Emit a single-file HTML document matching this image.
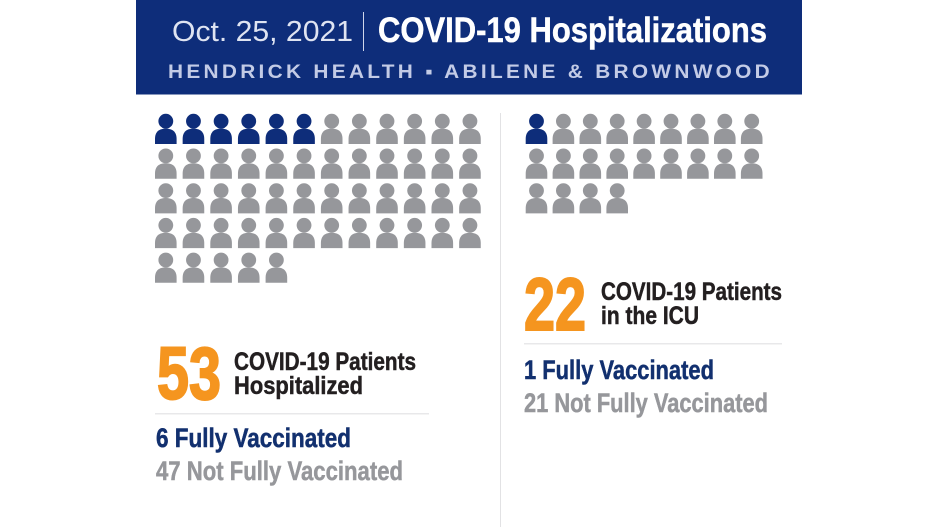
<!DOCTYPE html>
<html lang="en">
<head>
<meta charset="utf-8">
<title>COVID-19 Hospitalizations</title>
<style>
html,body{margin:0;padding:0;background:#fff;width:938px;height:527px;overflow:hidden}
svg{display:block}
text{font-family:"Liberation Sans Narrow","Liberation Sans",sans-serif;font-weight:700}
.wide{font-family:"Liberation Sans",sans-serif}
.heavy{stroke-width:.5px;paint-order:stroke}
.big{stroke-width:2px}
</style>
</head>
<body>
<svg id="chart" width="938" height="527" viewBox="0 0 938 527" xmlns="http://www.w3.org/2000/svg">
  <rect x="136" y="0" width="666" height="94.5" fill="#0e2d7a"/>
  <text class="wide" x="172" y="41" font-size="29" fill="#dfe4f2" style="font-weight:400" textLength="181" lengthAdjust="spacingAndGlyphs">Oct. 25, 2021</text>
  <rect x="363" y="12" width="1" height="39" fill="#cfd6ea"/>
  <text class="heavy" stroke="#fff" x="378" y="42" font-size="35" fill="#fff" textLength="389" lengthAdjust="spacingAndGlyphs">COVID-19 Hospitalizations</text>
  <text class="wide" x="168" y="78" font-size="19" fill="#c3cbe6" textLength="605" lengthAdjust="spacingAndGlyphs" letter-spacing="3">HENDRICK HEALTH ▪ ABILENE &amp; BROWNWOOD</text>

  <rect x="500" y="113" width="1" height="414" fill="#e2e2e4"/>
  <g id="hospital-icons"></g>
  <g id="icu-icons"></g>

  <text class="big" stroke="#f5951f" x="157" y="399" font-size="74" fill="#f5951f" textLength="64" lengthAdjust="spacingAndGlyphs">53</text>
  <text class="heavy" stroke="#231f20" x="234" y="370" font-size="25" fill="#231f20" textLength="182" lengthAdjust="spacingAndGlyphs">COVID-19 Patients</text>
  <text class="heavy" stroke="#231f20" x="234" y="394" font-size="25" fill="#231f20" textLength="129" lengthAdjust="spacingAndGlyphs">Hospitalized</text>
  <rect x="155" y="413" width="274" height="1.5" fill="#e8e8ea"/>
  <text class="heavy" stroke="#12306f" x="156" y="447" font-size="27" fill="#12306f" textLength="195" lengthAdjust="spacingAndGlyphs">6 Fully Vaccinated</text>
  <text class="heavy" stroke="#96979b" x="156" y="480" font-size="27" fill="#96979b" textLength="247" lengthAdjust="spacingAndGlyphs">47 Not Fully Vaccinated</text>

  <text class="big" stroke="#f5951f" x="524" y="330" font-size="74" fill="#f5951f" textLength="62" lengthAdjust="spacingAndGlyphs">22</text>
  <text class="heavy" stroke="#231f20" x="601" y="300" font-size="25" fill="#231f20" textLength="181" lengthAdjust="spacingAndGlyphs">COVID-19 Patients</text>
  <text class="heavy" stroke="#231f20" x="601" y="324" font-size="25" fill="#231f20" textLength="98" lengthAdjust="spacingAndGlyphs">in the ICU</text>
  <rect x="524" y="343" width="258" height="1.5" fill="#e8e8ea"/>
  <text class="heavy" stroke="#12306f" x="524" y="379" font-size="27" fill="#12306f" textLength="190" lengthAdjust="spacingAndGlyphs">1 Fully Vaccinated</text>
  <text class="heavy" stroke="#96979b" x="524" y="412" font-size="27" fill="#96979b" textLength="244" lengthAdjust="spacingAndGlyphs">21 Not Fully Vaccinated</text>
</svg>
<script>
const hospitalizedVaccinated = 6;
const hospitalizedNotVaccinated = 47;
const icuVaccinated = 1;
const icuNotVaccinated = 21;

const NAVY = '#0e2d7a';
const GREY = '#96979b';
const SVG_NS = 'http://www.w3.org/2000/svg';

function drawIcons(group, vaccinated, notVaccinated, opts) {
  const total = vaccinated + notVaccinated;
  for (let i = 0; i < total; i++) {
    const col = i % opts.columns;
    const row = Math.floor(i / opts.columns);
    const cx = opts.x + col * opts.stepX;
    const top = opts.y + row * opts.stepY;
    const fill = i < vaccinated ? NAVY : GREY;

    const icon = document.createElementNS(SVG_NS, 'g');
    
    

    const head = document.createElementNS(SVG_NS, 'circle');
    
    
    head.setAttribute('cx', cx);
    head.setAttribute('cy', top + 7.2);
    head.setAttribute('r', 7.4);
    head.setAttribute('fill', fill);
    icon.appendChild(head);

    const body = document.createElementNS(SVG_NS, 'path');
    
    
    body.setAttribute('d', 'M' + (cx - 10.8) + ' ' + (top + 30) +
      'V' + (top + 25) +
      'C' + (cx - 10.8) + ' ' + (top + 17.5) + ' ' + (cx - 6.5) + ' ' + (top + 14.6) + ' ' + cx + ' ' + (top + 14.6) +
      'C' + (cx + 6.5) + ' ' + (top + 14.6) + ' ' + (cx + 10.8) + ' ' + (top + 17.5) + ' ' + (cx + 10.8) + ' ' + (top + 25) +
      'V' + (top + 30) + 'Z');
    body.setAttribute('fill', fill);
    icon.appendChild(body);

    group.appendChild(icon);
  }
}

drawIcons(document.getElementById('hospital-icons'), hospitalizedVaccinated, hospitalizedNotVaccinated,
  { columns: 12, x: 165.8, y: 114, stepX: 27.65, stepY: 34.7 });
drawIcons(document.getElementById('icu-icons'), icuVaccinated, icuNotVaccinated,
  { columns: 9, x: 536.5, y: 114, stepX: 26.9, stepY: 34.7 });
</script>
</body>
</html>
